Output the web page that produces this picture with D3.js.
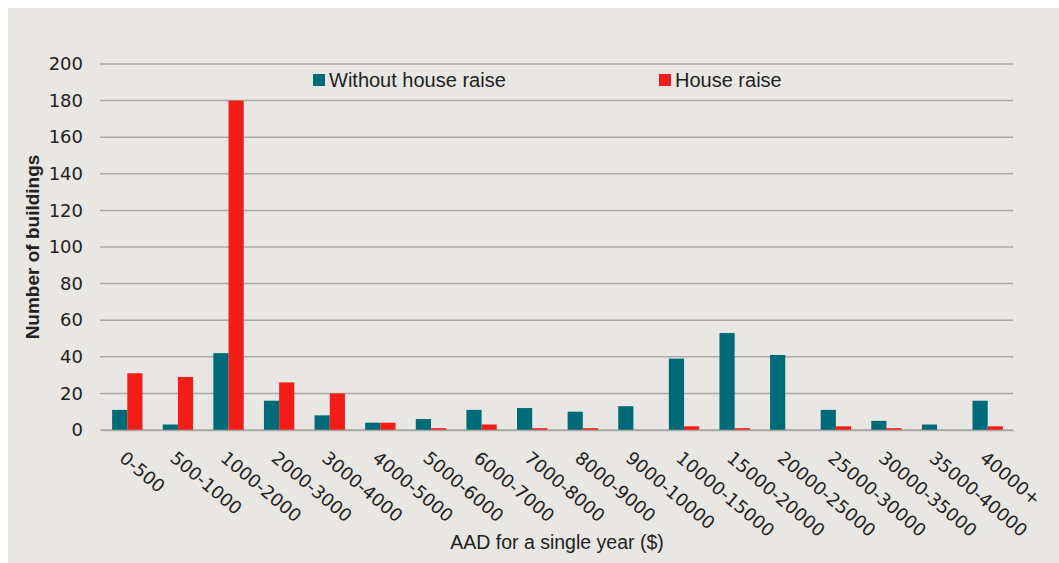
<!DOCTYPE html>
<html>
<head>
<meta charset="utf-8">
<script src="https://cdn.jsdelivr.net/npm/d3@7"></script>
<style>
  html, body { margin: 0; padding: 0; background: #ffffff; }
  svg { display: block; }
  text { font-family: "Liberation Sans", Arial, sans-serif; fill: #222; }
</style>
</head>
<body>
<script>
const categories = ["0-500","500-1000","1000-2000","2000-3000","3000-4000","4000-5000","5000-6000","6000-7000","7000-8000","8000-9000","9000-10000","10000-15000","15000-20000","20000-25000","25000-30000","30000-35000","35000-40000","40000+"];
const withoutRaise = [11,3,42,16,8,4,6,11,12,10,13,39,53,41,11,5,3,16];
const houseRaise = [31,29,180,26,20,4,1,3,1,1,0,2,1,0,2,1,0,2];
const seriesNames = ["Without house raise","House raise"];
const yTicks = [0,20,40,60,80,100,120,140,160,180,200];

const W = 1059, H = 563;
const colors = ["#006b78", "#f41c16"];
const m = {left: 100, right: 1013, top: 64, bottom: 430};
const numFont = '"DejaVu Sans", sans-serif';
const txtFont = '"Liberation Sans", Arial, sans-serif';

const svg = d3.select("body").append("svg").attr("width", W).attr("height", H);
svg.append("rect").attr("x", 8).attr("y", 8).attr("width", 1051).attr("height", 555).attr("fill", "#e8e7e3");

const x = d3.scaleBand().domain(categories).range([102, m.right]).paddingInner(0.4).paddingOuter(0.2);
const xs = d3.scaleBand().domain([0,1]).range([0, x.bandwidth()]);
const y = d3.scaleLinear().domain([0, 200]).range([m.bottom, m.top]);

// gridlines
svg.append("g").selectAll("line").data(yTicks).join("line")
  .attr("x1", m.left).attr("x2", m.right)
  .attr("y1", d => y(d)).attr("y2", d => y(d))
  .attr("stroke", "#aaa9a5").attr("stroke-width", 1.5);

// y labels
const yAxis = d3.axisLeft(y).tickValues(yTicks).tickSize(0).tickPadding(17);
const gy = svg.append("g").attr("transform", `translate(${m.left},0)`).call(yAxis);
gy.select(".domain").remove();
gy.selectAll("text").style("font-family", numFont).style("font-size", "18px").attr("fill", "#333");

// bars
const data = categories.map((c, i) => ({c, vals: [withoutRaise[i], houseRaise[i]]}));
const groups = svg.append("g").selectAll("g").data(data).join("g")
  .attr("transform", d => `translate(${x(d.c)},0)`);
groups.selectAll("rect").data(d => d.vals.map((v, k) => ({v, k}))).join("rect")
  .attr("x", d => xs(d.k)).attr("width", xs.bandwidth())
  .attr("y", d => y(d.v)).attr("height", d => y(0) - y(d.v))
  .attr("fill", d => colors[d.k]);

// x axis
const xAxis = d3.axisBottom(x).tickSize(0).tickPadding(0);
const gx = svg.append("g").attr("transform", `translate(0,${m.bottom})`).call(xAxis);
gx.select(".domain").attr("stroke", "#aaa9a5").attr("stroke-width", 1.5);
gx.selectAll("text")
  .style("font-family", numFont).style("font-size", "18px").attr("fill", "#333")
  .attr("text-anchor", "start").attr("dy", null).attr("y", 0)
  .attr("transform", "translate(-9,30) rotate(40)");

// axis titles
svg.append("text").attr("x", 557).attr("y", 549).attr("text-anchor", "middle")
  .style("font-size", "19.5px").attr("fill", "#333").text("AAD for a single year ($)");
svg.append("text").attr("transform", "translate(39,247) rotate(-90)").attr("text-anchor", "middle")
  .style("font-size", "19px").style("font-weight", "bold").attr("fill", "#222").text("Number of buildings");

// legend
const legX = [313, 659];
seriesNames.forEach((n, i) => {
  svg.append("rect").attr("x", legX[i]).attr("y", 74).attr("width", 12).attr("height", 12).attr("fill", colors[i]);
  svg.append("text").attr("x", legX[i] + 16).attr("y", 87).style("font-size", "20px").attr("fill", "#333").text(n);
});
</script>
</body>
</html>
